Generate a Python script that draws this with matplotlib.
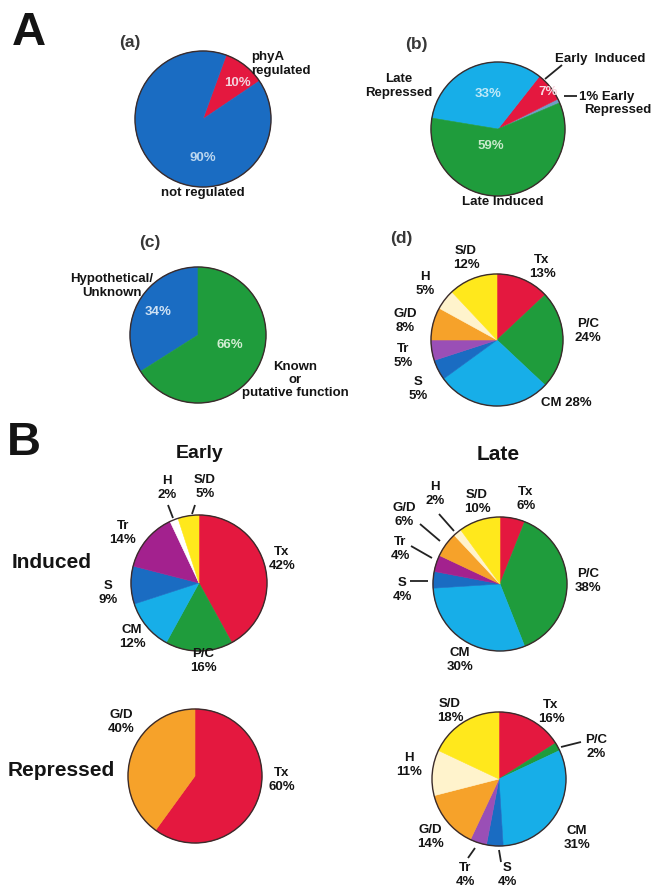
import matplotlib
matplotlib.use("Agg")
import matplotlib.pyplot as plt
from matplotlib.patches import Circle

W, H = 667, 889

# ---- data ----
a_labels = ["phyA\nregulated", "not regulated"]
a_values = [10, 90]

b_labels = ["Early Repressed", "Early Induced", "Late Repressed", "Late Induced"]
b_values = [1, 7, 33, 59]

c_labels = ["Hypothetical/\nUnknown", "Known\nor\nputative function"]
c_values = [34, 66]

categories = ["Tx", "P/C", "CM", "S", "Tr", "G/D", "H", "S/D"]
d_values = [13, 24, 28, 5, 5, 8, 5, 12]
early_induced = [42, 16, 12, 9, 14, 0, 2, 5]
late_induced = [6, 38, 30, 4, 4, 6, 2, 10]
early_repressed = [60, 0, 0, 0, 0, 40, 0, 0]
late_repressed = [16, 2, 31, 4, 4, 14, 11, 18]

# colours
RED = "#e4183f"
GREEN = "#1f9c3c"
CYAN = "#17aee8"
BLUE = "#1a6cc2"
PURPLE = "#9a4fb6"
MAGENTA = "#a3218e"
ORANGE = "#f6a22a"
CREAM = "#fff3cc"
YELLOW = "#ffe81c"
EDGE = "#3a2b2b"
INK = "#141414"

cat_colors = {"Tx": RED, "P/C": GREEN, "CM": CYAN, "S": BLUE, "Tr": PURPLE,
              "G/D": ORANGE, "H": CREAM, "S/D": YELLOW}

plt.rcParams['font.family'] = ['Liberation Sans', 'DejaVu Sans']

fig = plt.figure(figsize=(W / 100, H / 100), dpi=100)

lay = fig.add_axes([0, 0, 1, 1], zorder=5)
lay.set_xlim(0, W)
lay.set_ylim(H, 0)
lay.axis('off')


def pie(cx, cy, r, values, colors, start, ccw=False):
    pad = 1.04
    ax = fig.add_axes([(cx - r * pad) / W, 1 - (cy + r * pad) / H,
                       2 * r * pad / W, 2 * r * pad / H])
    wedges, _ = ax.pie(values, colors=colors, startangle=start, counterclock=ccw,
                       wedgeprops=dict(linewidth=0.4))
    for w, v in zip(wedges, values):
        if v == 0:
            w.set_visible(False)  # empty categories leave no seam
        else:
            w.set_edgecolor(w.get_facecolor())
    ax.add_patch(Circle((0, 0), 1, fill=False, ec=EDGE, lw=1.0))
    ax.set_xlim(-pad, pad)
    ax.set_ylim(-pad, pad)
    ax.set_aspect('equal')
    ax.axis('off')
    return ax


def txt(x, y, s, size=9.5, color=INK, ha='center', **kw):
    lay.text(x, y, s, fontsize=size, color=color, ha=ha, va='center',
             fontweight='bold', linespacing=1.12, **kw)


def line(x0, y0, x1, y1):
    lay.plot([x0, x1], [y0, y1], color='#222222', lw=1.3, solid_capstyle='butt')


def cat_pie(cx, cy, r, values, pos, overrides=None, one_line=()):
    cols = dict(cat_colors)
    if overrides:
        cols.update(overrides)
    pie(cx, cy, r, values, [cols[c] for c in categories], 90)
    for c, v in zip(categories, values):
        if v == 0 or c not in pos:
            continue
        sep = " " if c in one_line else "\n"
        x, y = pos[c]
        txt(x, y, f"{c}{sep}{v}%")


# ---- panel letters / titles ----
txt(29, 33, "A", size=34)
txt(24, 443, "B", size=34)
txt(130, 42, "(a)", size=12.5, color="#383838")
txt(416, 45, "(b)", size=12.5, color="#383838")
txt(150, 242, "(c)", size=12.5, color="#383838")
txt(401, 238, "(d)", size=12.5, color="#383838")
txt(200, 453, "Early", size=14)
txt(498, 455, "Late", size=15)
txt(52, 563, "Induced", size=15)
txt(61, 770, "Repressed", size=15)

# ---- (a) ----
pie(203, 119, 68, a_values, [RED, BLUE], 34, ccw=True)
txt(251, 64, a_labels[0], ha='left')
txt(203, 193, a_labels[1])
txt(237, 83, f"{a_values[0]}%", color="#f3d2dc")
txt(203, 158, f"{a_values[1]}%", color="#bcd7ef")

# ---- (b) ----
pie(498, 129, 67, b_values, ["#6f9fc4", RED, CYAN, GREEN], 23, ccw=True)
txt(600, 59, b_labels[1].replace(" ", "  "))
line(562, 65, 545, 79)
txt(579, 97, f"{b_values[0]}% Early", ha='left')
txt(584, 110, "Repressed", ha='left')
line(564, 96, 577, 96)
txt(399, 86, b_labels[2].replace(" ", "\n"))
txt(503, 202, b_labels[3])
txt(548, 92, f"{b_values[1]}%", color="#f8d6de")
txt(488, 94, f"{b_values[2]}%", color="#bfe9f8")
txt(491, 146, f"{b_values[3]}%", color="#c8eacb")

# ---- (c) ----
pie(198, 335, 68, c_values, [BLUE, GREEN], 90, ccw=True)
txt(112, 286, c_labels[0])
txt(295, 380, c_labels[1])
txt(158, 312, f"{c_values[0]}%", color="#cfe2f4")
txt(230, 345, f"{c_values[1]}%", color="#d2eed3")

# ---- (d) ----
cat_pie(497, 340, 66, d_values,
        {"Tx": (542, 267), "P/C": (588, 331), "CM": (566, 403),
         "S": (418, 389), "Tr": (403, 356), "G/D": (405, 321),
         "H": (425, 284), "S/D": (466, 258)},
        one_line=("CM",))

# ---- B: early induced ----
cat_pie(199, 583, 68, early_induced,
        {"Tx": (282, 559), "P/C": (203, 661), "CM": (132, 637),
         "S": (108, 593), "Tr": (123, 533), "H": (167, 488),
         "S/D": (205, 487)},
        overrides={"Tr": MAGENTA, "H": "#ffffff"})
line(168, 505, 173, 518)
line(195, 505, 192, 514)

# ---- B: late induced ----
cat_pie(500, 584, 67, late_induced,
        {"Tx": (526, 499), "P/C": (588, 581), "CM": (460, 660),
         "S": (402, 590), "Tr": (400, 549), "G/D": (404, 515),
         "H": (435, 494), "S/D": (477, 502)},
        overrides={"Tr": MAGENTA})
line(410, 581, 428, 581)
line(411, 546, 432, 558)
line(420, 524, 440, 541)
line(439, 514, 454, 531)

# ---- B: early repressed ----
cat_pie(195, 776, 67, early_repressed,
        {"Tx": (282, 780), "G/D": (121, 722)})

# ---- B: late repressed ----
cat_pie(499, 779, 67, late_repressed,
        {"Tx": (551, 712), "P/C": (596, 747), "CM": (577, 838),
         "S": (507, 875), "Tr": (465, 875), "G/D": (430, 837),
         "H": (409, 765), "S/D": (450, 711)})
line(561, 747, 581, 742)
line(475, 848, 468, 858)
line(499, 850, 501, 862)

fig.savefig("out.png", dpi=100)
